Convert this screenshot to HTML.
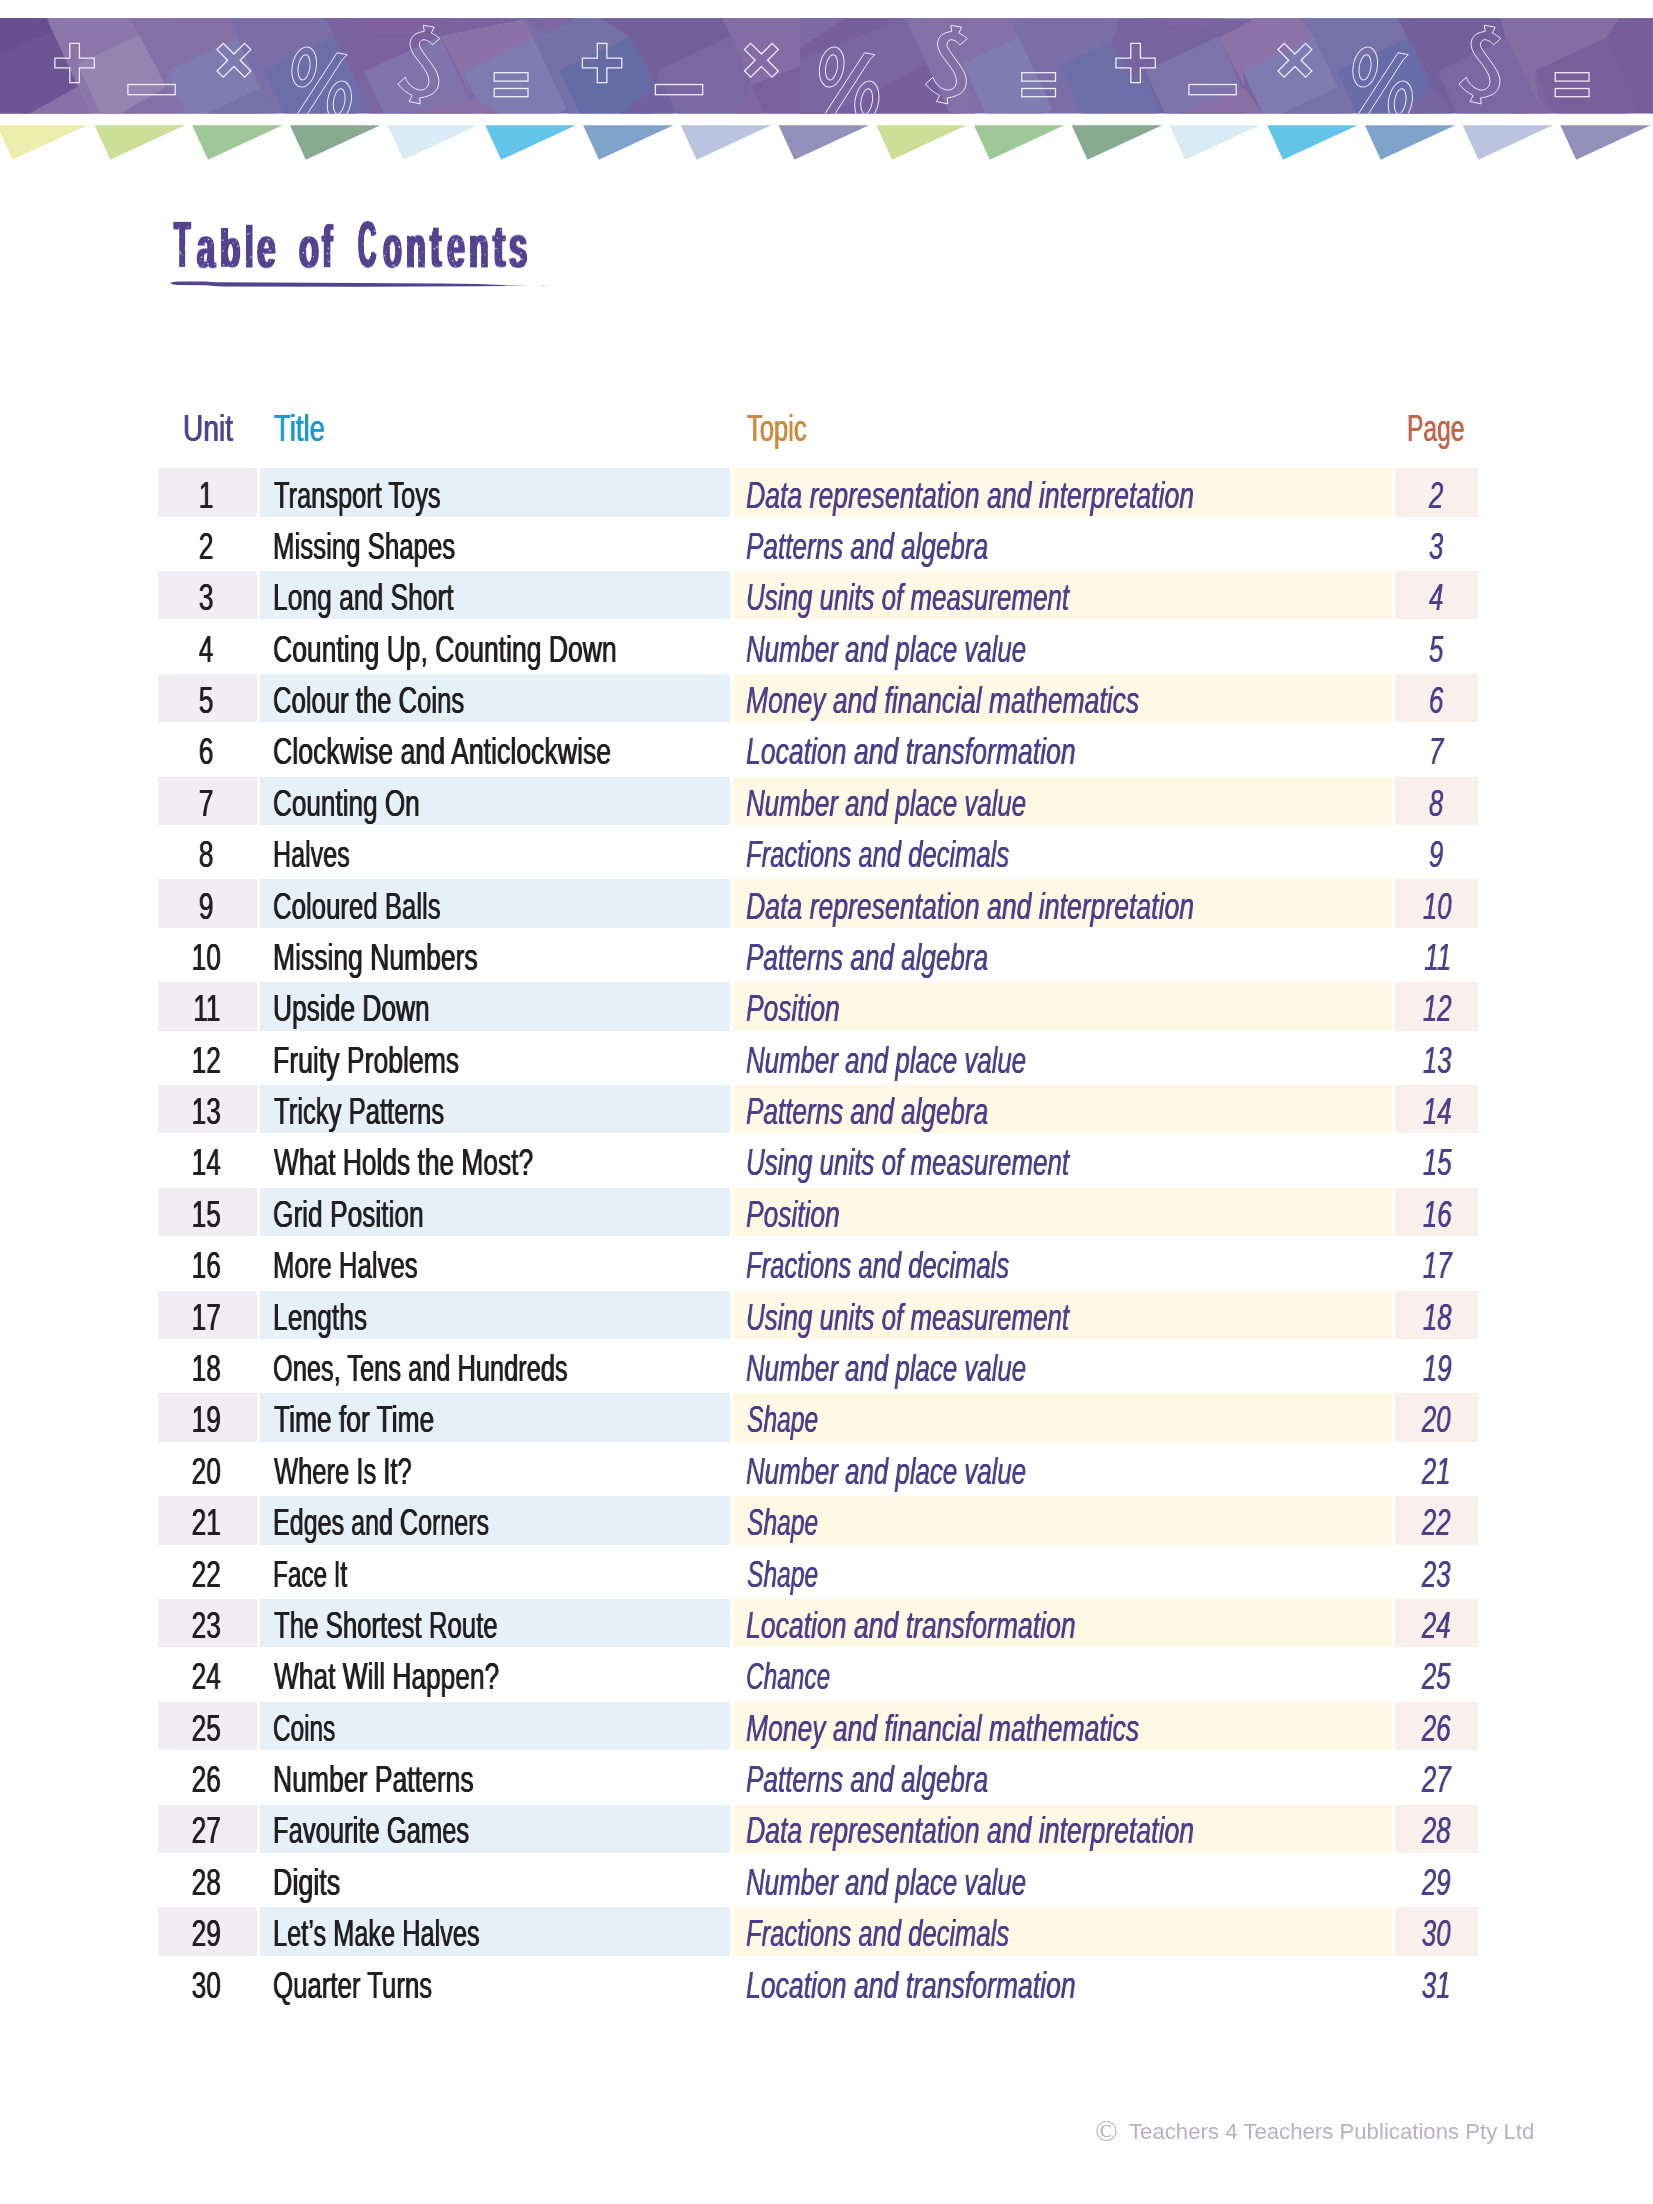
<!DOCTYPE html>
<html lang="en"><head><meta charset="utf-8"><title>Table of Contents</title>
<style>
html,body{margin:0;padding:0;background:#fff;}
body{width:1653px;height:2204px;position:relative;overflow:hidden;font-family:"Liberation Sans",sans-serif;}
.abs{position:absolute;}
.ft{will-change:transform;}
.bg{position:absolute;height:48.6px;}
.u{left:158.3px;width:98.6px;background:#f0edf3;}
.t{left:259.8px;width:470.1px;background:#e5f0f8;}
.p{left:733.2px;width:658.6px;background:#fff8e4;}
.g{left:1395.2px;width:83.1px;background:#f9efeb;}
.tx{will-change:transform;position:absolute;white-space:nowrap;font-size:37.2px;line-height:40px;height:40px;transform-origin:0 50%;color:#231f20;text-shadow:0.55px 0 0 currentColor,-0.55px 0 0 currentColor;}
.it{font-style:italic;color:#4b3f8a;text-shadow:0.35px 0 0 currentColor,-0.35px 0 0 currentColor;}
.c{transform-origin:50% 50%;text-align:center;}
</style></head><body>

<svg class="abs" style="left:0;top:0" width="1653" height="170" viewBox="0 0 1653 170">
<defs><clipPath id="bc"><rect x="0" y="18.2" width="1653" height="95.4"/></clipPath>
<linearGradient id="bg" x1="0" x2="1653" y1="0" y2="0" gradientUnits="userSpaceOnUse"><stop offset="0.0000" stop-color="#6c5495"/><stop offset="0.0272" stop-color="#6c5495"/><stop offset="0.0363" stop-color="#8a73a8"/><stop offset="0.0968" stop-color="#8a73a8"/><stop offset="0.1210" stop-color="#8070a8"/><stop offset="0.1694" stop-color="#7a6ea8"/><stop offset="0.2057" stop-color="#7a62a0"/><stop offset="0.2843" stop-color="#8068a2"/><stop offset="0.3206" stop-color="#7c66a3"/><stop offset="0.3388" stop-color="#7070a8"/><stop offset="0.3872" stop-color="#6f6ba5"/><stop offset="0.4114" stop-color="#74609c"/><stop offset="0.4840" stop-color="#7d649f"/><stop offset="0.5445" stop-color="#765f9c"/><stop offset="0.5808" stop-color="#846fa6"/><stop offset="0.6171" stop-color="#7a6ea8"/><stop offset="0.6655" stop-color="#7a6ea8"/><stop offset="0.6836" stop-color="#77639f"/><stop offset="0.7502" stop-color="#77639f"/><stop offset="0.8046" stop-color="#7870a9"/><stop offset="0.8469" stop-color="#7470a8"/><stop offset="0.8711" stop-color="#735f9c"/><stop offset="0.9135" stop-color="#7e669f"/><stop offset="1.0000" stop-color="#775d99"/></linearGradient></defs>
<g clip-path="url(#bc)">
<rect x="0" y="0" width="1653" height="130" fill="url(#bg)"/>
<polygon points="40.0,18.0 134.0,18.0 142.7,37.8 120.0,114.0 20.0,114.0" fill="#8b75a9"/>
<polygon points="77.4,63.9 141.3,34.1 171.1,98.0 107.2,127.8" fill="#9584b2"/>
<polygon points="0.0,18.0 46.6,18.0 77.9,86.8 28.8,114.0 0.0,114.0" fill="#6c5495"/>
<polygon points="0.0,18.0 46.6,18.0 50.8,32.6 0.0,54.6" fill="#684f91"/>
<polygon points="28.8,114.0 77.9,86.8 90.0,114.0" fill="#8770a6"/>
<polygon points="130.0,18.0 238.0,18.0 237.1,37.7 166.8,70.7 166.8,86.8 140.6,37.7" fill="#8470a5"/>
<polygon points="120.0,114.0 166.8,86.8 193.0,120.0" fill="#846fa6"/>
<polygon points="166.8,70.7 237.2,37.9 270.1,108.3 199.6,141.1" fill="#7f7bb0"/>
<polygon points="237.1,37.7 232.0,18.0 330.0,18.0 336.0,39.4 264.0,70.0 263.4,86.8" fill="#7a6ea8"/>
<polygon points="264.0,70.0 335.6,36.6 369.0,108.2 297.4,141.6" fill="#6b6ea8"/>
<polygon points="193.0,120.0 263.4,86.8 280.0,120.0" fill="#7672a9"/>
<polygon points="326.0,18.0 530.0,18.0 441.0,36.0 364.0,71.6 359.8,86.8 336.0,39.4" fill="#7a629f"/>
<polygon points="360.0,18.0 450.0,18.0 420.0,34.0 372.0,34.0" fill="#81639f" fill-opacity="0.8"/>
<polygon points="364.0,71.6 440.1,36.1 475.6,112.2 399.5,147.7" fill="#7f74aa"/>
<polygon points="441.0,36.0 530.0,18.0 540.0,36.0 534.2,39.4 463.0,71.6 476.0,106.0" fill="#8a72a7"/>
<polygon points="359.8,86.8 364.0,71.6 398.0,146.0 370.0,114.0" fill="#7a66a2"/>
<polygon points="463.0,71.6 533.7,38.6 566.7,109.3 496.0,142.3" fill="#7f7bb0"/>
<polygon points="400.0,114.0 476.0,100.0 500.0,114.0" fill="#8a6fa5"/>
<polygon points="524.0,18.0 600.0,18.0 631.5,37.7 559.5,70.0 557.8,86.8 534.2,39.4" fill="#7570a8"/>
<polygon points="524.0,18.0 575.0,18.0 545.0,34.0" fill="#7c66a3"/>
<polygon points="557.8,86.8 559.5,70.0 592.5,140.7 570.0,114.0" fill="#7571a9"/>
<polygon points="559.5,70.0 631.1,36.6 664.5,108.2 592.9,141.6" fill="#656ba5"/>
<polygon points="631.5,37.7 600.0,18.0 722.0,18.0 731.4,37.7 656.9,70.7 656.9,86.8" fill="#725f9b"/>
<polygon points="656.9,70.7 731.2,36.0 765.9,110.4 691.6,145.0" fill="#7968a2"/>
<polygon points="620.0,114.0 656.9,86.8 690.0,140.0 620.0,140.0" fill="#7062a0"/>
<polygon points="722.0,18.0 830.0,18.0 830.0,60.0 751.7,85.0 731.4,37.7" fill="#846da4"/>
<polygon points="751.7,85.0 830.0,55.0 830.0,114.0 765.0,114.0" fill="#7a609c"/>
<polygon points="735.0,114.0 751.7,85.0 765.0,114.0" fill="#7f68a1"/>
<polygon points="800.0,18.0 914.0,18.0 960.0,114.0 800.0,114.0" fill="#765f9c"/>
<polygon points="800.0,18.0 845.0,18.0 800.0,48.0" fill="#806aa3"/>
<polygon points="800.0,60.0 900.0,20.0 914.0,18.0 935.0,60.0 830.0,114.0 800.0,114.0" fill="#7b66a1"/>
<polygon points="905.0,18.0 1030.0,18.0 1018.5,38.0 962.6,63.4 975.0,114.0 950.0,114.0" fill="#846fa6"/>
<polygon points="1018.5,38.0 1010.0,18.0 1120.0,18.0 1112.0,43.0 1064.0,66.0" fill="#7a6ea8"/>
<polygon points="962.6,63.4 1018.8,37.2 1052.6,109.7 996.4,135.9" fill="#807bb0"/>
<polygon points="1060.0,66.0 1125.3,35.6 1160.8,111.7 1095.5,142.1" fill="#6c6ea8"/>
<polygon points="1112.0,43.0 1120.0,18.0 1200.0,18.0 1218.9,37.7 1145.2,70.7 1130.0,75.0" fill="#77639f"/>
<polygon points="1150.0,18.0 1225.0,18.0 1190.0,34.0" fill="#80649f" fill-opacity="0.7"/>
<polygon points="1145.2,70.7 1218.6,36.5 1252.8,109.9 1179.4,144.1" fill="#7c73aa"/>
<polygon points="1218.9,37.7 1256.0,18.0 1305.0,18.0 1314.6,37.7 1242.6,70.7 1245.0,88.0" fill="#8b72a7"/>
<polygon points="1180.0,114.0 1245.0,88.0 1267.0,120.0 1180.0,120.0" fill="#8a6fa5"/>
<polygon points="1242.6,70.7 1314.2,37.3 1347.6,108.9 1276.0,142.3" fill="#7f7bb0"/>
<polygon points="1314.6,37.7 1300.0,18.0 1400.0,18.0 1408.0,38.0 1337.0,71.0 1339.1,86.8" fill="#7770a9"/>
<polygon points="1337.0,71.0 1407.7,38.0 1440.7,108.7 1370.0,141.7" fill="#686ca8"/>
<polygon points="1267.0,120.0 1339.1,86.8 1356.0,120.0" fill="#7672a9"/>
<polygon points="1408.0,38.0 1398.0,18.0 1500.0,18.0 1506.0,38.0 1437.5,71.0 1433.7,86.0" fill="#735f9c"/>
<polygon points="1437.5,71.0 1506.4,38.9 1538.5,107.8 1469.6,139.9" fill="#7a68a3"/>
<polygon points="1400.0,114.0 1433.7,86.0 1470.0,140.0 1400.0,140.0" fill="#7565a0"/>
<polygon points="1500.0,18.0 1620.0,18.0 1606.0,38.0 1535.0,71.0 1540.0,108.0 1506.0,38.0" fill="#846da3"/>
<polygon points="1535.0,71.0 1605.7,38.0 1638.7,108.7 1568.0,141.7" fill="#78609b"/>
<polygon points="1606.0,38.0 1620.0,18.0 1653.0,18.0 1653.0,114.0 1640.0,110.0" fill="#775d99"/>
<polygon points="1510.0,114.0 1540.0,100.0 1570.0,140.0 1510.0,140.0" fill="#7f68a1"/>
<g transform="translate(0 0)" fill="none" stroke="#f1ebf8" stroke-width="1.3" stroke-linejoin="miter">
<path d="M-4.80 -19.70 L4.80 -19.70 L4.80 -4.80 L19.70 -4.80 L19.70 4.80 L4.80 4.80 L4.80 19.70 L-4.80 19.70 L-4.80 4.80 L-19.70 4.80 L-19.70 -4.80 L-4.80 -4.80Z" transform="translate(74.60 63.00) rotate(0)"/>
<rect x="127.90" y="84.50" width="47.30" height="10.20"/>
<path d="M-4.40 -19.50 L4.40 -19.50 L4.40 -4.40 L19.50 -4.40 L19.50 4.40 L4.40 4.40 L4.40 19.50 L-4.40 19.50 L-4.40 4.40 L-19.50 4.40 L-19.50 -4.40 L-4.40 -4.40Z" transform="translate(233.90 60.30) rotate(45)"/>
<g stroke-width="1.0"><ellipse cx="0" cy="0" rx="12.10" ry="20.08" transform="translate(304.20 67.02) skewX(-7)"/><ellipse cx="0" cy="0" rx="5.90" ry="12.58" transform="translate(304.05 67.36) skewX(-7)"/><ellipse cx="0" cy="0" rx="11.86" ry="20.08" transform="translate(339.38 101.05) skewX(-7)"/><ellipse cx="0" cy="0" rx="5.71" ry="12.58" transform="translate(339.19 101.24) skewX(-7)"/><path d="M337.11 52.75 L347.27 54.68 L342.43 59.52 L302.26 121.95 L292.10 121.95Z"/><path d="M424.28 31.31 L423.32 25.26 L434.20 27.20 L431.30 33.00 C432.03 33.41 434.24 34.50 435.66 35.42 C437.07 36.35 439.08 38.04 439.77 38.57 L432.51 44.86 C432.07 44.42 430.86 42.96 429.85 42.20 C428.84 41.43 427.59 40.67 426.46 40.26 C425.33 39.86 424.08 39.58 423.07 39.78 C422.06 39.98 421.02 40.67 420.41 41.47 C419.81 42.28 419.44 43.53 419.44 44.62 C419.44 45.71 419.73 46.63 420.41 48.01 C421.10 49.38 422.23 50.91 423.56 52.85 C424.89 54.78 426.78 57.36 428.40 59.62 C430.01 61.88 431.87 64.30 433.24 66.40 C434.61 68.49 435.74 70.27 436.62 72.20 C437.51 74.14 438.20 76.32 438.56 78.01 C438.92 79.71 438.92 80.84 438.80 82.37 C438.68 83.90 438.44 85.67 437.83 87.21 C437.23 88.74 436.26 90.35 435.17 91.56 C434.08 92.77 432.83 93.62 431.30 94.47 C429.77 95.31 427.91 96.08 425.98 96.64 C424.04 97.21 420.73 97.65 419.69 97.85 L420.17 103.90 L409.04 101.48 L412.18 95.43 C411.34 94.95 408.76 93.66 407.10 92.53 C405.45 91.40 403.80 90.07 402.26 88.66 C400.73 87.25 398.63 84.83 397.91 84.06 L405.41 77.29 C405.77 78.05 406.66 80.47 407.59 81.88 C408.51 83.30 409.68 84.63 410.97 85.76 C412.26 86.88 413.80 87.93 415.33 88.66 C416.86 89.39 418.64 90.03 420.17 90.11 C421.70 90.19 423.27 89.79 424.53 89.14 C425.78 88.50 426.94 87.45 427.67 86.24 C428.40 85.03 428.80 83.50 428.88 81.88 C428.96 80.27 428.72 78.42 428.15 76.56 C427.59 74.70 426.66 72.77 425.49 70.75 C424.32 68.74 422.67 66.56 421.14 64.46 C419.60 62.36 417.67 60.02 416.30 58.17 C414.93 56.31 413.84 55.02 412.91 53.33 C411.98 51.64 411.20 49.70 410.73 48.01 C410.26 46.31 409.98 44.78 410.10 43.17 C410.22 41.55 410.75 39.70 411.46 38.33 C412.17 36.96 413.23 35.87 414.36 34.94 C415.49 34.01 416.58 33.37 418.23 32.76 C419.89 32.16 423.27 31.55 424.28 31.31Z" stroke-linejoin="round"/></g>
<rect x="494.20" y="72.70" width="33.80" height="8.40"/>
<rect x="494.20" y="88.50" width="33.80" height="8.20"/>
</g>
<g transform="translate(527.5 0)" fill="none" stroke="#f1ebf8" stroke-width="1.3" stroke-linejoin="miter">
<path d="M-4.80 -19.70 L4.80 -19.70 L4.80 -4.80 L19.70 -4.80 L19.70 4.80 L4.80 4.80 L4.80 19.70 L-4.80 19.70 L-4.80 4.80 L-19.70 4.80 L-19.70 -4.80 L-4.80 -4.80Z" transform="translate(74.60 63.00) rotate(0)"/>
<rect x="127.90" y="84.50" width="47.30" height="10.20"/>
<path d="M-4.40 -19.50 L4.40 -19.50 L4.40 -4.40 L19.50 -4.40 L19.50 4.40 L4.40 4.40 L4.40 19.50 L-4.40 19.50 L-4.40 4.40 L-19.50 4.40 L-19.50 -4.40 L-4.40 -4.40Z" transform="translate(233.90 60.30) rotate(45)"/>
<g stroke-width="1.0"><ellipse cx="0" cy="0" rx="12.10" ry="20.08" transform="translate(304.20 67.02) skewX(-7)"/><ellipse cx="0" cy="0" rx="5.90" ry="12.58" transform="translate(304.05 67.36) skewX(-7)"/><ellipse cx="0" cy="0" rx="11.86" ry="20.08" transform="translate(339.38 101.05) skewX(-7)"/><ellipse cx="0" cy="0" rx="5.71" ry="12.58" transform="translate(339.19 101.24) skewX(-7)"/><path d="M337.11 52.75 L347.27 54.68 L342.43 59.52 L302.26 121.95 L292.10 121.95Z"/><path d="M424.28 31.31 L423.32 25.26 L434.20 27.20 L431.30 33.00 C432.03 33.41 434.24 34.50 435.66 35.42 C437.07 36.35 439.08 38.04 439.77 38.57 L432.51 44.86 C432.07 44.42 430.86 42.96 429.85 42.20 C428.84 41.43 427.59 40.67 426.46 40.26 C425.33 39.86 424.08 39.58 423.07 39.78 C422.06 39.98 421.02 40.67 420.41 41.47 C419.81 42.28 419.44 43.53 419.44 44.62 C419.44 45.71 419.73 46.63 420.41 48.01 C421.10 49.38 422.23 50.91 423.56 52.85 C424.89 54.78 426.78 57.36 428.40 59.62 C430.01 61.88 431.87 64.30 433.24 66.40 C434.61 68.49 435.74 70.27 436.62 72.20 C437.51 74.14 438.20 76.32 438.56 78.01 C438.92 79.71 438.92 80.84 438.80 82.37 C438.68 83.90 438.44 85.67 437.83 87.21 C437.23 88.74 436.26 90.35 435.17 91.56 C434.08 92.77 432.83 93.62 431.30 94.47 C429.77 95.31 427.91 96.08 425.98 96.64 C424.04 97.21 420.73 97.65 419.69 97.85 L420.17 103.90 L409.04 101.48 L412.18 95.43 C411.34 94.95 408.76 93.66 407.10 92.53 C405.45 91.40 403.80 90.07 402.26 88.66 C400.73 87.25 398.63 84.83 397.91 84.06 L405.41 77.29 C405.77 78.05 406.66 80.47 407.59 81.88 C408.51 83.30 409.68 84.63 410.97 85.76 C412.26 86.88 413.80 87.93 415.33 88.66 C416.86 89.39 418.64 90.03 420.17 90.11 C421.70 90.19 423.27 89.79 424.53 89.14 C425.78 88.50 426.94 87.45 427.67 86.24 C428.40 85.03 428.80 83.50 428.88 81.88 C428.96 80.27 428.72 78.42 428.15 76.56 C427.59 74.70 426.66 72.77 425.49 70.75 C424.32 68.74 422.67 66.56 421.14 64.46 C419.60 62.36 417.67 60.02 416.30 58.17 C414.93 56.31 413.84 55.02 412.91 53.33 C411.98 51.64 411.20 49.70 410.73 48.01 C410.26 46.31 409.98 44.78 410.10 43.17 C410.22 41.55 410.75 39.70 411.46 38.33 C412.17 36.96 413.23 35.87 414.36 34.94 C415.49 34.01 416.58 33.37 418.23 32.76 C419.89 32.16 423.27 31.55 424.28 31.31Z" stroke-linejoin="round"/></g>
<rect x="494.20" y="72.70" width="33.80" height="8.40"/>
<rect x="494.20" y="88.50" width="33.80" height="8.20"/>
</g>
<g transform="translate(1061.0 0)" fill="none" stroke="#f1ebf8" stroke-width="1.3" stroke-linejoin="miter">
<path d="M-4.80 -19.70 L4.80 -19.70 L4.80 -4.80 L19.70 -4.80 L19.70 4.80 L4.80 4.80 L4.80 19.70 L-4.80 19.70 L-4.80 4.80 L-19.70 4.80 L-19.70 -4.80 L-4.80 -4.80Z" transform="translate(74.60 63.00) rotate(0)"/>
<rect x="127.90" y="84.50" width="47.30" height="10.20"/>
<path d="M-4.40 -19.50 L4.40 -19.50 L4.40 -4.40 L19.50 -4.40 L19.50 4.40 L4.40 4.40 L4.40 19.50 L-4.40 19.50 L-4.40 4.40 L-19.50 4.40 L-19.50 -4.40 L-4.40 -4.40Z" transform="translate(233.90 60.30) rotate(45)"/>
<g stroke-width="1.0"><ellipse cx="0" cy="0" rx="12.10" ry="20.08" transform="translate(304.20 67.02) skewX(-7)"/><ellipse cx="0" cy="0" rx="5.90" ry="12.58" transform="translate(304.05 67.36) skewX(-7)"/><ellipse cx="0" cy="0" rx="11.86" ry="20.08" transform="translate(339.38 101.05) skewX(-7)"/><ellipse cx="0" cy="0" rx="5.71" ry="12.58" transform="translate(339.19 101.24) skewX(-7)"/><path d="M337.11 52.75 L347.27 54.68 L342.43 59.52 L302.26 121.95 L292.10 121.95Z"/><path d="M424.28 31.31 L423.32 25.26 L434.20 27.20 L431.30 33.00 C432.03 33.41 434.24 34.50 435.66 35.42 C437.07 36.35 439.08 38.04 439.77 38.57 L432.51 44.86 C432.07 44.42 430.86 42.96 429.85 42.20 C428.84 41.43 427.59 40.67 426.46 40.26 C425.33 39.86 424.08 39.58 423.07 39.78 C422.06 39.98 421.02 40.67 420.41 41.47 C419.81 42.28 419.44 43.53 419.44 44.62 C419.44 45.71 419.73 46.63 420.41 48.01 C421.10 49.38 422.23 50.91 423.56 52.85 C424.89 54.78 426.78 57.36 428.40 59.62 C430.01 61.88 431.87 64.30 433.24 66.40 C434.61 68.49 435.74 70.27 436.62 72.20 C437.51 74.14 438.20 76.32 438.56 78.01 C438.92 79.71 438.92 80.84 438.80 82.37 C438.68 83.90 438.44 85.67 437.83 87.21 C437.23 88.74 436.26 90.35 435.17 91.56 C434.08 92.77 432.83 93.62 431.30 94.47 C429.77 95.31 427.91 96.08 425.98 96.64 C424.04 97.21 420.73 97.65 419.69 97.85 L420.17 103.90 L409.04 101.48 L412.18 95.43 C411.34 94.95 408.76 93.66 407.10 92.53 C405.45 91.40 403.80 90.07 402.26 88.66 C400.73 87.25 398.63 84.83 397.91 84.06 L405.41 77.29 C405.77 78.05 406.66 80.47 407.59 81.88 C408.51 83.30 409.68 84.63 410.97 85.76 C412.26 86.88 413.80 87.93 415.33 88.66 C416.86 89.39 418.64 90.03 420.17 90.11 C421.70 90.19 423.27 89.79 424.53 89.14 C425.78 88.50 426.94 87.45 427.67 86.24 C428.40 85.03 428.80 83.50 428.88 81.88 C428.96 80.27 428.72 78.42 428.15 76.56 C427.59 74.70 426.66 72.77 425.49 70.75 C424.32 68.74 422.67 66.56 421.14 64.46 C419.60 62.36 417.67 60.02 416.30 58.17 C414.93 56.31 413.84 55.02 412.91 53.33 C411.98 51.64 411.20 49.70 410.73 48.01 C410.26 46.31 409.98 44.78 410.10 43.17 C410.22 41.55 410.75 39.70 411.46 38.33 C412.17 36.96 413.23 35.87 414.36 34.94 C415.49 34.01 416.58 33.37 418.23 32.76 C419.89 32.16 423.27 31.55 424.28 31.31Z" stroke-linejoin="round"/></g>
<rect x="494.20" y="72.70" width="33.80" height="8.40"/>
<rect x="494.20" y="88.50" width="33.80" height="8.20"/>
</g>
</g>
<polygon points="-3.2,125.2 87.1,125.2 12.6,159.8" fill="#eceeab"/>
<polygon points="94.5,125.2 184.8,125.2 110.3,159.8" fill="#cddf97"/>
<polygon points="192.2,125.2 282.5,125.2 208.0,159.8" fill="#9ec897"/>
<polygon points="290.0,125.2 380.3,125.2 305.8,159.8" fill="#88aa90"/>
<polygon points="387.7,125.2 478.0,125.2 403.5,159.8" fill="#d9ebf5"/>
<polygon points="485.4,125.2 575.7,125.2 501.2,159.8" fill="#62c4e8"/>
<polygon points="583.1,125.2 673.4,125.2 598.9,159.8" fill="#80a3cc"/>
<polygon points="680.8,125.2 771.1,125.2 696.6,159.8" fill="#bac4e0"/>
<polygon points="778.6,125.2 868.9,125.2 794.4,159.8" fill="#9590bb"/>
<polygon points="876.3,125.2 966.6,125.2 892.1,159.8" fill="#cddf97"/>
<polygon points="974.0,125.2 1064.3,125.2 989.8,159.8" fill="#9ec897"/>
<polygon points="1071.7,125.2 1162.0,125.2 1087.5,159.8" fill="#88aa90"/>
<polygon points="1169.4,125.2 1259.7,125.2 1185.2,159.8" fill="#d9ebf5"/>
<polygon points="1267.2,125.2 1357.5,125.2 1283.0,159.8" fill="#62c4e8"/>
<polygon points="1364.9,125.2 1455.2,125.2 1380.7,159.8" fill="#80a3cc"/>
<polygon points="1462.6,125.2 1552.9,125.2 1478.4,159.8" fill="#bac4e0"/>
<polygon points="1560.3,125.2 1650.6,125.2 1576.1,159.8" fill="#9590bb"/>
</svg>
<style>.tl{will-change:transform;position:absolute;white-space:nowrap;font-weight:bold;font-size:62.0px;line-height:62.0px;height:62.0px;color:#51438f;text-shadow:2.3px 0 0 #51438f,-2.3px 0 0 #51438f;transform-origin:0 0;}</style>
<div class="tl" style="left:174.20px;top:213.14px;transform:scale(0.4365,1.0414)">T</div>
<div class="tl" style="left:196.70px;top:217.57px;transform:scale(0.5246,0.9491)">a</div>
<div class="tl" style="left:220.26px;top:221.29px;transform:scale(0.5360,0.8796)">b</div>
<div class="tl" style="left:244.82px;top:216.85px;transform:scale(0.4969,0.9708)">l</div>
<div class="tl" style="left:257.19px;top:217.57px;transform:scale(0.5365,0.9491)">e</div>
<div class="tl" style="left:299.09px;top:217.57px;transform:scale(0.5246,0.9491)">o</div>
<div class="tl" style="left:322.47px;top:216.16px;transform:scale(0.5011,0.9839)">f</div>
<div class="tl" style="left:358.45px;top:212.72px;transform:scale(0.4108,1.0435)">C</div>
<div class="tl" style="left:382.58px;top:215.78px;transform:scale(0.4960,0.9864)">o</div>
<div class="tl" style="left:405.68px;top:216.15px;transform:scale(0.5197,0.9880)">n</div>
<div class="tl" style="left:430.08px;top:216.33px;transform:scale(0.5573,0.9722)">t</div>
<div class="tl" style="left:446.79px;top:216.08px;transform:scale(0.5169,0.9806)">e</div>
<div class="tl" style="left:469.29px;top:216.15px;transform:scale(0.5169,0.9880)">n</div>
<div class="tl" style="left:493.05px;top:216.33px;transform:scale(0.5853,0.9722)">t</div>
<div class="tl" style="left:508.99px;top:216.08px;transform:scale(0.5313,0.9806)">s</div>
<svg class="abs" style="left:160px;top:274px" width="420" height="20" viewBox="160 274 420 20"><path d="M170.6 283.3 C171.5 282.0 174 281.6 178 281.5 L200 281.4 C206 281.4 210 281.8 216 282.3 L360 283.1 L440 283.6 L477 284.0 L502 285.0 L528 285.6 L502 285.9 L477 286.3 L360 286.8 L222 286.5 C216 286.4 211 285.4 205 285.2 L178 284.9 C174 284.8 171.5 284.4 170.6 283.3 Z" fill="#51438f"/><path d="M540.5 285.4 L550 285.6 L541 286.0Z" fill="#51438f" fill-opacity="0.5"/><path d="M505 285.0 L529 285.6 L505 286.0Z" fill="#ffffff" fill-opacity="0.45"/></svg>
<svg class="abs speck" style="left:170px;top:220px" width="362" height="52" viewBox="170 220 362 52"><g fill="#ffffff" fill-opacity="0.6"><circle cx="333.0" cy="248.3" r="0.7"/><circle cx="332.9" cy="262.2" r="0.45"/><circle cx="237.7" cy="246.1" r="0.9"/><circle cx="454.3" cy="226.4" r="0.55"/><circle cx="222.5" cy="247.3" r="0.35"/><circle cx="384.0" cy="240.6" r="0.7"/><circle cx="404.8" cy="250.9" r="0.45"/><circle cx="393.8" cy="261.1" r="0.35"/><circle cx="193.2" cy="230.9" r="0.45"/><circle cx="385.5" cy="258.6" r="0.55"/><circle cx="328.8" cy="261.6" r="0.9"/><circle cx="255.2" cy="235.8" r="0.35"/><circle cx="407.8" cy="243.5" r="0.55"/><circle cx="316.8" cy="247.9" r="0.35"/><circle cx="424.0" cy="236.8" r="0.45"/><circle cx="354.6" cy="223.4" r="0.9"/><circle cx="444.8" cy="240.8" r="0.55"/><circle cx="309.6" cy="267.0" r="0.35"/><circle cx="248.0" cy="265.6" r="0.35"/><circle cx="339.3" cy="268.1" r="0.7"/><circle cx="321.4" cy="248.6" r="0.45"/><circle cx="449.1" cy="234.7" r="0.35"/><circle cx="282.8" cy="222.7" r="0.7"/><circle cx="441.9" cy="227.5" r="0.45"/><circle cx="423.7" cy="222.5" r="0.7"/><circle cx="455.7" cy="230.4" r="0.9"/><circle cx="239.1" cy="245.9" r="0.45"/><circle cx="321.2" cy="240.0" r="0.7"/><circle cx="321.8" cy="232.0" r="0.55"/><circle cx="479.7" cy="267.8" r="0.9"/><circle cx="280.3" cy="263.6" r="0.45"/><circle cx="238.7" cy="268.8" r="0.9"/><circle cx="400.5" cy="226.7" r="0.45"/><circle cx="247.9" cy="234.1" r="0.9"/><circle cx="289.1" cy="235.9" r="0.35"/><circle cx="198.4" cy="231.8" r="0.45"/><circle cx="177.5" cy="239.3" r="0.9"/><circle cx="333.3" cy="267.1" r="0.7"/><circle cx="468.3" cy="228.4" r="0.7"/><circle cx="237.1" cy="229.2" r="0.45"/><circle cx="463.1" cy="233.7" r="0.45"/><circle cx="228.4" cy="251.6" r="0.9"/><circle cx="242.0" cy="266.7" r="0.7"/><circle cx="386.9" cy="241.8" r="0.35"/><circle cx="210.8" cy="246.1" r="0.55"/><circle cx="256.9" cy="255.1" r="0.55"/><circle cx="321.8" cy="264.5" r="0.7"/><circle cx="276.5" cy="230.2" r="0.35"/><circle cx="217.0" cy="244.5" r="0.9"/><circle cx="390.7" cy="235.2" r="0.45"/><circle cx="438.6" cy="225.3" r="0.7"/><circle cx="330.7" cy="224.8" r="0.45"/><circle cx="272.4" cy="247.0" r="0.45"/><circle cx="204.8" cy="228.5" r="0.7"/><circle cx="521.1" cy="252.9" r="0.9"/><circle cx="380.1" cy="228.6" r="0.35"/><circle cx="500.8" cy="244.3" r="0.55"/><circle cx="421.5" cy="267.3" r="0.35"/><circle cx="385.0" cy="225.5" r="0.35"/><circle cx="432.1" cy="237.0" r="0.35"/><circle cx="198.8" cy="247.7" r="0.35"/><circle cx="492.5" cy="256.6" r="0.45"/><circle cx="454.4" cy="265.0" r="0.55"/><circle cx="202.2" cy="244.2" r="0.35"/><circle cx="482.1" cy="241.6" r="0.35"/><circle cx="479.4" cy="248.9" r="0.9"/><circle cx="407.8" cy="239.8" r="0.35"/><circle cx="388.8" cy="225.8" r="0.35"/><circle cx="525.6" cy="263.4" r="0.55"/><circle cx="310.3" cy="256.5" r="0.9"/><circle cx="335.0" cy="243.7" r="0.9"/><circle cx="201.8" cy="257.3" r="0.35"/><circle cx="282.4" cy="226.1" r="0.35"/><circle cx="254.0" cy="254.8" r="0.7"/><circle cx="449.7" cy="253.0" r="0.7"/><circle cx="263.1" cy="222.5" r="0.55"/><circle cx="223.0" cy="250.8" r="0.9"/><circle cx="232.4" cy="264.6" r="0.7"/><circle cx="349.4" cy="233.3" r="0.7"/><circle cx="409.1" cy="231.3" r="0.7"/><circle cx="458.1" cy="257.5" r="0.45"/><circle cx="485.4" cy="240.1" r="0.9"/><circle cx="499.8" cy="231.9" r="0.45"/><circle cx="348.7" cy="261.3" r="0.35"/><circle cx="425.2" cy="266.7" r="0.55"/><circle cx="464.6" cy="227.3" r="0.7"/><circle cx="270.0" cy="232.1" r="0.7"/><circle cx="308.2" cy="246.4" r="0.55"/><circle cx="427.0" cy="261.6" r="0.9"/><circle cx="333.1" cy="225.5" r="0.35"/><circle cx="271.0" cy="250.6" r="0.55"/><circle cx="375.1" cy="236.5" r="0.9"/><circle cx="178.8" cy="228.4" r="0.7"/><circle cx="239.6" cy="258.2" r="0.55"/><circle cx="256.5" cy="228.6" r="0.35"/><circle cx="522.3" cy="227.4" r="0.35"/><circle cx="396.3" cy="252.8" r="0.55"/><circle cx="513.2" cy="254.2" r="0.45"/><circle cx="465.3" cy="234.0" r="0.35"/><circle cx="440.8" cy="247.1" r="0.35"/><circle cx="235.8" cy="234.8" r="0.55"/><circle cx="364.1" cy="266.5" r="0.9"/><circle cx="390.7" cy="257.5" r="0.7"/><circle cx="474.2" cy="254.9" r="0.45"/><circle cx="203.0" cy="265.8" r="0.7"/><circle cx="218.2" cy="243.3" r="0.35"/><circle cx="306.1" cy="248.7" r="0.9"/><circle cx="455.6" cy="266.4" r="0.7"/><circle cx="288.2" cy="268.2" r="0.35"/><circle cx="429.0" cy="260.5" r="0.35"/><circle cx="247.9" cy="264.3" r="0.35"/><circle cx="519.9" cy="247.2" r="0.55"/><circle cx="265.2" cy="255.8" r="0.35"/><circle cx="296.1" cy="225.9" r="0.7"/><circle cx="293.8" cy="241.8" r="0.55"/><circle cx="345.5" cy="223.3" r="0.35"/><circle cx="324.7" cy="223.6" r="0.9"/><circle cx="291.3" cy="259.0" r="0.45"/><circle cx="339.5" cy="269.0" r="0.9"/><circle cx="471.0" cy="254.4" r="0.7"/><circle cx="378.1" cy="254.4" r="0.45"/><circle cx="328.4" cy="248.3" r="0.9"/><circle cx="399.4" cy="246.6" r="0.9"/><circle cx="263.3" cy="253.6" r="0.9"/><circle cx="246.1" cy="262.0" r="0.9"/><circle cx="358.6" cy="248.9" r="0.45"/><circle cx="318.3" cy="227.4" r="0.35"/><circle cx="387.5" cy="223.3" r="0.35"/><circle cx="355.7" cy="240.8" r="0.9"/><circle cx="215.4" cy="226.4" r="0.45"/><circle cx="195.5" cy="247.3" r="0.7"/><circle cx="499.8" cy="259.6" r="0.7"/><circle cx="267.8" cy="244.2" r="0.45"/><circle cx="292.9" cy="264.3" r="0.7"/><circle cx="358.9" cy="227.1" r="0.7"/><circle cx="392.0" cy="265.5" r="0.45"/><circle cx="421.9" cy="267.9" r="0.35"/><circle cx="241.1" cy="232.7" r="0.55"/><circle cx="286.7" cy="238.7" r="0.9"/><circle cx="349.6" cy="245.5" r="0.9"/><circle cx="215.7" cy="246.0" r="0.55"/><circle cx="427.5" cy="255.0" r="0.7"/><circle cx="180.3" cy="251.8" r="0.9"/><circle cx="391.2" cy="247.3" r="0.9"/><circle cx="399.3" cy="246.9" r="0.9"/><circle cx="389.8" cy="262.3" r="0.45"/><circle cx="497.7" cy="251.5" r="0.55"/><circle cx="493.4" cy="236.8" r="0.55"/><circle cx="489.1" cy="231.2" r="0.45"/><circle cx="488.0" cy="228.3" r="0.45"/><circle cx="219.2" cy="226.1" r="0.7"/><circle cx="206.5" cy="261.1" r="0.7"/><circle cx="365.4" cy="255.1" r="0.45"/><circle cx="315.4" cy="254.2" r="0.35"/><circle cx="206.2" cy="248.8" r="0.55"/><circle cx="496.4" cy="267.5" r="0.35"/><circle cx="422.9" cy="251.8" r="0.55"/><circle cx="351.0" cy="254.2" r="0.45"/><circle cx="457.8" cy="244.7" r="0.35"/><circle cx="185.3" cy="247.9" r="0.9"/><circle cx="494.2" cy="244.6" r="0.45"/><circle cx="237.7" cy="231.6" r="0.45"/><circle cx="524.5" cy="265.6" r="0.35"/><circle cx="378.4" cy="228.3" r="0.7"/><circle cx="199.6" cy="226.5" r="0.7"/><circle cx="338.2" cy="246.2" r="0.7"/><circle cx="246.8" cy="239.5" r="0.35"/><circle cx="472.6" cy="230.5" r="0.7"/><circle cx="300.0" cy="239.4" r="0.45"/><circle cx="387.3" cy="226.5" r="0.35"/><circle cx="287.2" cy="226.0" r="0.7"/><circle cx="374.8" cy="231.0" r="0.9"/><circle cx="521.8" cy="259.8" r="0.55"/><circle cx="271.5" cy="227.5" r="0.45"/><circle cx="462.0" cy="241.1" r="0.55"/><circle cx="485.2" cy="254.7" r="0.7"/><circle cx="444.4" cy="241.1" r="0.45"/><circle cx="197.1" cy="238.1" r="0.7"/><circle cx="207.9" cy="263.7" r="0.9"/><circle cx="189.6" cy="234.8" r="0.55"/><circle cx="292.3" cy="253.0" r="0.9"/><circle cx="236.8" cy="225.6" r="0.9"/><circle cx="528.0" cy="252.2" r="0.35"/><circle cx="443.2" cy="268.1" r="0.35"/><circle cx="212.9" cy="227.1" r="0.45"/><circle cx="263.4" cy="240.9" r="0.35"/><circle cx="443.0" cy="252.5" r="0.35"/><circle cx="207.0" cy="233.8" r="0.55"/><circle cx="367.8" cy="245.9" r="0.9"/><circle cx="374.2" cy="268.8" r="0.7"/><circle cx="460.2" cy="225.6" r="0.9"/><circle cx="410.0" cy="266.9" r="0.7"/><circle cx="503.1" cy="229.5" r="0.7"/><circle cx="517.3" cy="262.2" r="0.9"/><circle cx="389.6" cy="224.8" r="0.7"/><circle cx="321.8" cy="246.8" r="0.9"/><circle cx="283.2" cy="246.9" r="0.7"/><circle cx="405.2" cy="248.4" r="0.55"/><circle cx="408.2" cy="257.1" r="0.35"/><circle cx="177.0" cy="233.5" r="0.35"/><circle cx="397.3" cy="241.2" r="0.7"/><circle cx="190.8" cy="236.8" r="0.7"/><circle cx="189.9" cy="268.5" r="0.55"/><circle cx="198.2" cy="264.6" r="0.7"/><circle cx="428.0" cy="233.8" r="0.45"/><circle cx="188.2" cy="226.6" r="0.7"/><circle cx="223.4" cy="267.1" r="0.45"/><circle cx="386.9" cy="227.4" r="0.9"/><circle cx="320.5" cy="227.5" r="0.35"/><circle cx="299.0" cy="229.3" r="0.55"/><circle cx="329.7" cy="253.4" r="0.7"/><circle cx="386.0" cy="252.1" r="0.7"/><circle cx="301.6" cy="257.0" r="0.45"/><circle cx="511.1" cy="256.5" r="0.45"/><circle cx="343.3" cy="245.6" r="0.55"/><circle cx="451.2" cy="251.4" r="0.55"/><circle cx="269.8" cy="250.7" r="0.9"/><circle cx="420.9" cy="230.9" r="0.55"/><circle cx="440.2" cy="230.9" r="0.45"/><circle cx="350.8" cy="252.7" r="0.45"/><circle cx="484.8" cy="223.9" r="0.35"/><circle cx="175.4" cy="234.2" r="0.35"/><circle cx="393.9" cy="226.8" r="0.9"/><circle cx="271.1" cy="257.5" r="0.45"/><circle cx="368.0" cy="251.7" r="0.55"/><circle cx="344.3" cy="238.6" r="0.55"/><circle cx="294.4" cy="257.0" r="0.35"/><circle cx="457.6" cy="243.0" r="0.9"/><circle cx="470.3" cy="258.1" r="0.7"/><circle cx="323.1" cy="234.1" r="0.45"/><circle cx="303.3" cy="252.7" r="0.9"/><circle cx="287.8" cy="247.8" r="0.45"/><circle cx="324.2" cy="239.4" r="0.35"/><circle cx="336.5" cy="237.2" r="0.9"/><circle cx="201.6" cy="248.5" r="0.7"/><circle cx="462.2" cy="243.8" r="0.35"/><circle cx="199.1" cy="232.0" r="0.9"/><circle cx="201.1" cy="236.3" r="0.55"/><circle cx="272.7" cy="228.7" r="0.55"/><circle cx="406.0" cy="237.4" r="0.35"/><circle cx="286.8" cy="242.7" r="0.9"/><circle cx="499.0" cy="266.2" r="0.55"/><circle cx="327.9" cy="259.7" r="0.55"/><circle cx="335.1" cy="232.4" r="0.9"/><circle cx="260.4" cy="239.0" r="0.55"/><circle cx="180.6" cy="253.8" r="0.9"/><circle cx="310.0" cy="231.2" r="0.9"/><circle cx="303.1" cy="240.3" r="0.45"/><circle cx="469.7" cy="248.5" r="0.45"/><circle cx="203.9" cy="243.4" r="0.55"/><circle cx="461.0" cy="232.4" r="0.35"/><circle cx="365.7" cy="248.7" r="0.35"/><circle cx="403.8" cy="259.8" r="0.35"/><circle cx="379.2" cy="236.4" r="0.9"/><circle cx="201.9" cy="225.8" r="0.35"/><circle cx="492.1" cy="226.0" r="0.45"/><circle cx="206.7" cy="260.4" r="0.7"/><circle cx="259.4" cy="232.4" r="0.9"/><circle cx="292.4" cy="243.6" r="0.55"/><circle cx="292.3" cy="267.5" r="0.45"/><circle cx="347.7" cy="247.3" r="0.35"/><circle cx="424.1" cy="265.0" r="0.7"/><circle cx="441.5" cy="268.3" r="0.55"/><circle cx="475.8" cy="259.9" r="0.35"/><circle cx="488.4" cy="267.0" r="0.35"/><circle cx="358.5" cy="255.4" r="0.35"/><circle cx="322.1" cy="241.8" r="0.45"/><circle cx="259.5" cy="229.6" r="0.7"/><circle cx="415.5" cy="237.1" r="0.7"/><circle cx="323.3" cy="235.7" r="0.35"/><circle cx="339.8" cy="256.3" r="0.55"/><circle cx="402.7" cy="258.5" r="0.45"/><circle cx="496.7" cy="257.4" r="0.35"/><circle cx="379.9" cy="264.7" r="0.35"/><circle cx="283.3" cy="231.3" r="0.55"/><circle cx="249.4" cy="233.1" r="0.7"/><circle cx="383.7" cy="232.5" r="0.45"/><circle cx="490.4" cy="240.9" r="0.55"/><circle cx="395.1" cy="266.3" r="0.9"/><circle cx="342.7" cy="234.2" r="0.7"/><circle cx="497.5" cy="238.1" r="0.9"/><circle cx="446.7" cy="226.3" r="0.45"/><circle cx="314.2" cy="232.2" r="0.45"/><circle cx="457.3" cy="240.1" r="0.9"/><circle cx="454.9" cy="258.4" r="0.35"/><circle cx="406.1" cy="233.2" r="0.35"/><circle cx="483.2" cy="264.5" r="0.7"/><circle cx="455.7" cy="255.5" r="0.9"/><circle cx="483.4" cy="241.5" r="0.55"/><circle cx="223.5" cy="264.7" r="0.9"/><circle cx="218.7" cy="256.9" r="0.9"/><circle cx="266.9" cy="247.1" r="0.45"/><circle cx="375.6" cy="230.4" r="0.45"/><circle cx="464.4" cy="261.8" r="0.45"/><circle cx="201.3" cy="234.7" r="0.9"/><circle cx="206.6" cy="244.6" r="0.7"/><circle cx="201.5" cy="257.2" r="0.9"/><circle cx="477.2" cy="236.3" r="0.45"/><circle cx="320.4" cy="265.1" r="0.35"/><circle cx="450.2" cy="242.7" r="0.35"/><circle cx="365.4" cy="246.7" r="0.45"/><circle cx="509.0" cy="267.3" r="0.55"/><circle cx="282.6" cy="225.6" r="0.55"/><circle cx="527.0" cy="253.4" r="0.35"/><circle cx="300.1" cy="254.3" r="0.35"/><circle cx="409.7" cy="253.8" r="0.35"/><circle cx="404.8" cy="222.6" r="0.7"/><circle cx="425.4" cy="244.3" r="0.55"/><circle cx="372.8" cy="243.5" r="0.35"/><circle cx="476.8" cy="261.7" r="0.45"/><circle cx="492.9" cy="229.2" r="0.7"/><circle cx="505.7" cy="257.2" r="0.55"/><circle cx="440.8" cy="248.1" r="0.35"/><circle cx="263.3" cy="231.4" r="0.35"/><circle cx="289.3" cy="266.4" r="0.9"/><circle cx="339.3" cy="252.1" r="0.7"/><circle cx="466.4" cy="226.3" r="0.45"/><circle cx="393.3" cy="228.2" r="0.45"/><circle cx="236.0" cy="240.9" r="0.7"/><circle cx="383.0" cy="226.2" r="0.45"/><circle cx="183.5" cy="268.4" r="0.7"/><circle cx="316.8" cy="225.4" r="0.7"/><circle cx="502.0" cy="228.5" r="0.45"/><circle cx="445.0" cy="260.6" r="0.7"/><circle cx="343.9" cy="265.3" r="0.9"/><circle cx="177.5" cy="240.8" r="0.55"/><circle cx="521.6" cy="259.1" r="0.9"/><circle cx="360.6" cy="234.3" r="0.45"/><circle cx="293.8" cy="252.6" r="0.35"/><circle cx="370.4" cy="231.6" r="0.55"/><circle cx="452.7" cy="260.8" r="0.9"/><circle cx="426.0" cy="233.9" r="0.9"/><circle cx="493.5" cy="247.8" r="0.55"/><circle cx="389.9" cy="246.1" r="0.9"/><circle cx="426.0" cy="268.4" r="0.9"/><circle cx="527.4" cy="255.2" r="0.45"/><circle cx="374.0" cy="223.3" r="0.45"/><circle cx="448.5" cy="228.4" r="0.7"/><circle cx="377.2" cy="254.8" r="0.55"/><circle cx="204.7" cy="263.0" r="0.55"/><circle cx="336.8" cy="227.8" r="0.45"/><circle cx="257.0" cy="248.8" r="0.9"/><circle cx="371.6" cy="248.3" r="0.55"/><circle cx="232.0" cy="257.0" r="0.55"/><circle cx="386.1" cy="227.8" r="0.35"/><circle cx="274.7" cy="264.2" r="0.45"/><circle cx="442.0" cy="239.1" r="0.45"/><circle cx="238.1" cy="247.7" r="0.35"/><circle cx="333.7" cy="241.0" r="0.45"/><circle cx="281.5" cy="253.5" r="0.7"/><circle cx="391.0" cy="252.1" r="0.35"/><circle cx="228.4" cy="241.4" r="0.35"/><circle cx="222.9" cy="240.2" r="0.9"/><circle cx="316.4" cy="237.8" r="0.45"/><circle cx="265.9" cy="248.7" r="0.55"/><circle cx="191.0" cy="258.8" r="0.45"/><circle cx="315.5" cy="245.4" r="0.35"/><circle cx="339.3" cy="241.3" r="0.9"/><circle cx="497.0" cy="248.5" r="0.7"/><circle cx="439.6" cy="244.8" r="0.7"/><circle cx="470.4" cy="262.2" r="0.7"/><circle cx="465.7" cy="227.5" r="0.35"/><circle cx="494.3" cy="246.7" r="0.9"/><circle cx="357.4" cy="241.8" r="0.35"/><circle cx="286.2" cy="224.6" r="0.9"/><circle cx="492.4" cy="256.4" r="0.9"/><circle cx="286.6" cy="259.1" r="0.9"/><circle cx="484.2" cy="233.5" r="0.7"/><circle cx="258.3" cy="263.0" r="0.35"/><circle cx="341.4" cy="227.0" r="0.45"/><circle cx="366.0" cy="252.9" r="0.45"/><circle cx="485.2" cy="269.0" r="0.55"/><circle cx="480.5" cy="241.8" r="0.45"/><circle cx="251.0" cy="257.1" r="0.9"/><circle cx="215.7" cy="225.4" r="0.9"/><circle cx="454.1" cy="227.8" r="0.9"/><circle cx="377.0" cy="243.3" r="0.55"/><circle cx="258.8" cy="236.1" r="0.55"/><circle cx="233.2" cy="242.7" r="0.7"/><circle cx="462.3" cy="240.7" r="0.55"/><circle cx="418.5" cy="232.8" r="0.55"/><circle cx="183.1" cy="264.2" r="0.55"/><circle cx="287.5" cy="228.7" r="0.7"/><circle cx="484.8" cy="231.5" r="0.35"/><circle cx="241.6" cy="261.4" r="0.55"/><circle cx="492.2" cy="222.8" r="0.9"/><circle cx="243.9" cy="251.7" r="0.45"/><circle cx="510.0" cy="267.9" r="0.35"/><circle cx="281.0" cy="260.4" r="0.55"/><circle cx="481.6" cy="255.5" r="0.45"/><circle cx="291.2" cy="267.0" r="0.7"/><circle cx="319.8" cy="230.0" r="0.55"/><circle cx="215.0" cy="254.5" r="0.55"/><circle cx="236.4" cy="233.1" r="0.55"/><circle cx="453.4" cy="239.5" r="0.9"/><circle cx="486.9" cy="249.7" r="0.45"/><circle cx="519.9" cy="264.1" r="0.45"/><circle cx="409.5" cy="235.0" r="0.35"/><circle cx="336.7" cy="225.6" r="0.9"/><circle cx="198.3" cy="264.6" r="0.35"/><circle cx="385.5" cy="235.4" r="0.55"/><circle cx="322.7" cy="248.7" r="0.45"/><circle cx="273.5" cy="257.5" r="0.45"/><circle cx="235.8" cy="256.5" r="0.35"/><circle cx="238.3" cy="264.2" r="0.35"/><circle cx="393.4" cy="265.1" r="0.9"/><circle cx="309.0" cy="265.7" r="0.7"/><circle cx="193.4" cy="225.0" r="0.55"/><circle cx="286.2" cy="244.7" r="0.35"/><circle cx="356.0" cy="245.8" r="0.9"/><circle cx="437.0" cy="247.0" r="0.9"/><circle cx="449.6" cy="229.8" r="0.9"/><circle cx="327.1" cy="253.4" r="0.9"/><circle cx="447.2" cy="259.0" r="0.45"/><circle cx="264.4" cy="247.6" r="0.9"/><circle cx="386.8" cy="234.3" r="0.45"/><circle cx="384.5" cy="255.6" r="0.9"/><circle cx="331.6" cy="263.4" r="0.55"/><circle cx="226.0" cy="222.8" r="0.7"/><circle cx="459.0" cy="245.7" r="0.55"/><circle cx="477.0" cy="223.5" r="0.35"/><circle cx="495.0" cy="248.7" r="0.9"/><circle cx="378.3" cy="255.9" r="0.9"/><circle cx="224.1" cy="236.6" r="0.35"/><circle cx="419.7" cy="260.5" r="0.9"/><circle cx="449.9" cy="258.0" r="0.7"/><circle cx="203.5" cy="260.6" r="0.45"/><circle cx="306.9" cy="233.7" r="0.7"/><circle cx="417.9" cy="261.1" r="0.7"/><circle cx="193.8" cy="241.3" r="0.55"/><circle cx="420.7" cy="255.1" r="0.35"/><circle cx="217.7" cy="257.5" r="0.9"/><circle cx="523.1" cy="228.8" r="0.7"/><circle cx="357.7" cy="268.3" r="0.35"/><circle cx="257.7" cy="263.8" r="0.45"/><circle cx="204.5" cy="248.1" r="0.7"/><circle cx="323.1" cy="225.6" r="0.35"/><circle cx="414.0" cy="255.7" r="0.9"/><circle cx="253.8" cy="233.9" r="0.9"/><circle cx="476.5" cy="241.7" r="0.35"/><circle cx="504.0" cy="239.1" r="0.55"/><circle cx="508.9" cy="265.4" r="0.45"/><circle cx="186.1" cy="240.9" r="0.35"/><circle cx="434.5" cy="248.7" r="0.9"/><circle cx="500.9" cy="230.3" r="0.7"/><circle cx="505.0" cy="232.0" r="0.7"/><circle cx="450.2" cy="232.1" r="0.55"/><circle cx="259.8" cy="259.3" r="0.45"/><circle cx="342.9" cy="240.8" r="0.9"/><circle cx="338.5" cy="236.5" r="0.7"/><circle cx="346.5" cy="251.5" r="0.45"/><circle cx="479.1" cy="231.6" r="0.7"/><circle cx="321.2" cy="224.2" r="0.55"/><circle cx="301.2" cy="234.9" r="0.35"/><circle cx="356.7" cy="256.9" r="0.9"/><circle cx="311.9" cy="265.4" r="0.45"/><circle cx="267.6" cy="239.0" r="0.45"/><circle cx="431.2" cy="258.5" r="0.45"/><circle cx="444.6" cy="256.0" r="0.35"/><circle cx="179.3" cy="237.1" r="0.7"/><circle cx="332.2" cy="262.2" r="0.7"/><circle cx="287.8" cy="258.2" r="0.9"/><circle cx="410.2" cy="236.2" r="0.9"/><circle cx="256.8" cy="223.9" r="0.45"/><circle cx="354.9" cy="228.0" r="0.45"/><circle cx="283.2" cy="241.9" r="0.9"/><circle cx="419.1" cy="246.3" r="0.9"/><circle cx="264.7" cy="256.1" r="0.7"/><circle cx="224.4" cy="231.6" r="0.55"/><circle cx="362.5" cy="243.1" r="0.45"/><circle cx="309.6" cy="262.7" r="0.45"/><circle cx="208.5" cy="239.4" r="0.9"/><circle cx="248.8" cy="223.9" r="0.35"/><circle cx="438.0" cy="244.7" r="0.35"/><circle cx="459.9" cy="267.9" r="0.55"/><circle cx="407.1" cy="225.1" r="0.45"/><circle cx="370.7" cy="238.6" r="0.35"/><circle cx="512.0" cy="262.8" r="0.45"/><circle cx="450.9" cy="234.2" r="0.7"/><circle cx="214.7" cy="245.2" r="0.7"/><circle cx="308.5" cy="237.4" r="0.7"/><circle cx="422.4" cy="232.4" r="0.7"/><circle cx="243.9" cy="258.1" r="0.55"/><circle cx="408.8" cy="233.3" r="0.35"/><circle cx="436.4" cy="264.7" r="0.45"/><circle cx="342.3" cy="234.1" r="0.9"/><circle cx="281.8" cy="265.0" r="0.7"/><circle cx="214.8" cy="264.8" r="0.7"/><circle cx="268.8" cy="239.7" r="0.9"/><circle cx="278.8" cy="255.8" r="0.55"/><circle cx="197.7" cy="223.7" r="0.55"/><circle cx="489.5" cy="248.6" r="0.55"/><circle cx="462.2" cy="263.7" r="0.7"/><circle cx="308.9" cy="238.0" r="0.55"/><circle cx="183.0" cy="255.2" r="0.45"/><circle cx="446.6" cy="251.5" r="0.9"/><circle cx="365.3" cy="250.8" r="0.35"/><circle cx="270.3" cy="261.0" r="0.7"/><circle cx="307.9" cy="264.8" r="0.35"/><circle cx="458.2" cy="254.1" r="0.55"/><circle cx="281.9" cy="238.9" r="0.35"/><circle cx="225.3" cy="231.0" r="0.45"/><circle cx="263.9" cy="232.3" r="0.9"/><circle cx="172.3" cy="247.6" r="0.7"/><circle cx="173.2" cy="247.7" r="0.9"/><circle cx="200.1" cy="260.7" r="0.55"/><circle cx="266.0" cy="226.9" r="0.35"/><circle cx="283.6" cy="255.6" r="0.7"/><circle cx="416.4" cy="267.3" r="0.45"/><circle cx="228.8" cy="251.2" r="0.7"/><circle cx="458.6" cy="235.8" r="0.7"/><circle cx="273.7" cy="257.2" r="0.9"/><circle cx="349.4" cy="252.4" r="0.55"/><circle cx="287.7" cy="230.4" r="0.9"/><circle cx="434.6" cy="263.2" r="0.35"/><circle cx="463.1" cy="263.6" r="0.55"/><circle cx="212.1" cy="243.2" r="0.7"/><circle cx="186.4" cy="251.2" r="0.7"/><circle cx="481.7" cy="224.5" r="0.55"/><circle cx="313.5" cy="256.8" r="0.7"/></g></svg>
<div class="tx " style="left:183.00px;top:408.00px;color:#4f4290;transform:scaleX(0.7558)">Unit</div>
<div class="tx " style="left:273.60px;top:408.00px;color:#1c9ad0;transform:scaleX(0.7387)">Title</div>
<div class="tx " style="left:747.20px;top:408.00px;color:#cd8b3d;transform:scaleX(0.6863)">Topic</div>
<div class="tx " style="left:1407.30px;top:408.00px;color:#c4664f;transform:scaleX(0.6618)">Page</div>
<div class="bg u" style="top:468.10px"></div>
<div class="bg t" style="top:468.10px"></div>
<div class="bg p" style="top:468.10px"></div>
<div class="bg g" style="top:468.10px"></div>
<div class="tx c " style="font-size:36.3px;line-height:41px;height:41px;left:196.30px;top:475.00px;width:20.19px;transform:scaleX(0.7200)">1</div>
<div class="tx " style="left:273.90px;top:475.00px;transform:scaleX(0.6833)">Transport Toys</div>
<div class="tx it" style="left:746.30px;top:475.00px;transform:scaleX(0.7153)">Data representation and interpretation</div>
<div class="tx c it" style="font-size:36.3px;line-height:41px;height:41px;left:1426.30px;top:475.00px;width:20.19px;transform:scaleX(0.7150)">2</div>
<div class="tx c " style="font-size:36.3px;line-height:41px;height:41px;left:196.30px;top:526.00px;width:20.19px;transform:scaleX(0.7200)">2</div>
<div class="tx " style="left:272.90px;top:526.00px;transform:scaleX(0.6938)">Missing Shapes</div>
<div class="tx it" style="left:746.30px;top:526.00px;transform:scaleX(0.7013)">Patterns and algebra</div>
<div class="tx c it" style="font-size:36.3px;line-height:41px;height:41px;left:1426.30px;top:526.00px;width:20.19px;transform:scaleX(0.7150)">3</div>
<div class="bg u" style="top:570.90px"></div>
<div class="bg t" style="top:570.90px"></div>
<div class="bg p" style="top:570.90px"></div>
<div class="bg g" style="top:570.90px"></div>
<div class="tx c " style="font-size:36.3px;line-height:41px;height:41px;left:196.30px;top:577.00px;width:20.19px;transform:scaleX(0.7200)">3</div>
<div class="tx " style="left:272.90px;top:577.00px;transform:scaleX(0.7103)">Long and Short</div>
<div class="tx it" style="left:746.30px;top:577.00px;transform:scaleX(0.6978)">Using units of measurement</div>
<div class="tx c it" style="font-size:36.3px;line-height:41px;height:41px;left:1426.30px;top:577.00px;width:20.19px;transform:scaleX(0.7150)">4</div>
<div class="tx c " style="font-size:36.3px;line-height:41px;height:41px;left:196.30px;top:629.00px;width:20.19px;transform:scaleX(0.7200)">4</div>
<div class="tx " style="left:272.90px;top:629.00px;transform:scaleX(0.7134)">Counting Up, Counting Down</div>
<div class="tx it" style="left:746.30px;top:629.00px;transform:scaleX(0.6949)">Number and place value</div>
<div class="tx c it" style="font-size:36.3px;line-height:41px;height:41px;left:1426.30px;top:629.00px;width:20.19px;transform:scaleX(0.7150)">5</div>
<div class="bg u" style="top:673.70px"></div>
<div class="bg t" style="top:673.70px"></div>
<div class="bg p" style="top:673.70px"></div>
<div class="bg g" style="top:673.70px"></div>
<div class="tx c " style="font-size:36.3px;line-height:41px;height:41px;left:196.30px;top:680.00px;width:20.19px;transform:scaleX(0.7200)">5</div>
<div class="tx " style="left:272.90px;top:680.00px;transform:scaleX(0.6901)">Colour the Coins</div>
<div class="tx it" style="left:746.30px;top:680.00px;transform:scaleX(0.7122)">Money and financial mathematics</div>
<div class="tx c it" style="font-size:36.3px;line-height:41px;height:41px;left:1426.30px;top:680.00px;width:20.19px;transform:scaleX(0.7150)">6</div>
<div class="tx c " style="font-size:36.3px;line-height:41px;height:41px;left:196.30px;top:731.00px;width:20.19px;transform:scaleX(0.7200)">6</div>
<div class="tx " style="left:272.90px;top:731.00px;transform:scaleX(0.7175)">Clockwise and Anticlockwise</div>
<div class="tx it" style="left:746.30px;top:731.00px;transform:scaleX(0.7150)">Location and transformation</div>
<div class="tx c it" style="font-size:36.3px;line-height:41px;height:41px;left:1426.30px;top:731.00px;width:20.19px;transform:scaleX(0.7150)">7</div>
<div class="bg u" style="top:776.50px"></div>
<div class="bg t" style="top:776.50px"></div>
<div class="bg p" style="top:776.50px"></div>
<div class="bg g" style="top:776.50px"></div>
<div class="tx c " style="font-size:36.3px;line-height:41px;height:41px;left:196.30px;top:783.00px;width:20.19px;transform:scaleX(0.7200)">7</div>
<div class="tx " style="left:272.90px;top:783.00px;transform:scaleX(0.7024)">Counting On</div>
<div class="tx it" style="left:746.30px;top:783.00px;transform:scaleX(0.6949)">Number and place value</div>
<div class="tx c it" style="font-size:36.3px;line-height:41px;height:41px;left:1426.30px;top:783.00px;width:20.19px;transform:scaleX(0.7150)">8</div>
<div class="tx c " style="font-size:36.3px;line-height:41px;height:41px;left:196.30px;top:834.00px;width:20.19px;transform:scaleX(0.7200)">8</div>
<div class="tx " style="left:272.90px;top:834.00px;transform:scaleX(0.6746)">Halves</div>
<div class="tx it" style="left:746.30px;top:834.00px;transform:scaleX(0.6881)">Fractions and decimals</div>
<div class="tx c it" style="font-size:36.3px;line-height:41px;height:41px;left:1426.30px;top:834.00px;width:20.19px;transform:scaleX(0.7150)">9</div>
<div class="bg u" style="top:879.30px"></div>
<div class="bg t" style="top:879.30px"></div>
<div class="bg p" style="top:879.30px"></div>
<div class="bg g" style="top:879.30px"></div>
<div class="tx c " style="font-size:36.3px;line-height:41px;height:41px;left:196.30px;top:886.00px;width:20.19px;transform:scaleX(0.7200)">9</div>
<div class="tx " style="left:272.90px;top:886.00px;transform:scaleX(0.6932)">Coloured Balls</div>
<div class="tx it" style="left:746.30px;top:886.00px;transform:scaleX(0.7153)">Data representation and interpretation</div>
<div class="tx c it" style="font-size:36.3px;line-height:41px;height:41px;left:1417.21px;top:886.00px;width:40.38px;transform:scaleX(0.7150)">10</div>
<div class="tx c " style="font-size:36.3px;line-height:41px;height:41px;left:186.21px;top:937.00px;width:40.38px;transform:scaleX(0.7200)">10</div>
<div class="tx " style="left:272.90px;top:937.00px;transform:scaleX(0.7124)">Missing Numbers</div>
<div class="tx it" style="left:746.30px;top:937.00px;transform:scaleX(0.7013)">Patterns and algebra</div>
<div class="tx c it" style="font-size:36.3px;line-height:41px;height:41px;left:1418.56px;top:937.00px;width:37.68px;transform:scaleX(0.7150)">11</div>
<div class="bg u" style="top:982.10px"></div>
<div class="bg t" style="top:982.10px"></div>
<div class="bg p" style="top:982.10px"></div>
<div class="bg g" style="top:982.10px"></div>
<div class="tx c " style="font-size:36.3px;line-height:41px;height:41px;left:187.56px;top:988.00px;width:37.68px;transform:scaleX(0.7200)">11</div>
<div class="tx " style="left:272.90px;top:988.00px;transform:scaleX(0.7083)">Upside Down</div>
<div class="tx it" style="left:746.30px;top:988.00px;transform:scaleX(0.7083)">Position</div>
<div class="tx c it" style="font-size:36.3px;line-height:41px;height:41px;left:1417.21px;top:988.00px;width:40.38px;transform:scaleX(0.7150)">12</div>
<div class="tx c " style="font-size:36.3px;line-height:41px;height:41px;left:186.21px;top:1040.00px;width:40.38px;transform:scaleX(0.7200)">12</div>
<div class="tx " style="left:272.90px;top:1040.00px;transform:scaleX(0.7149)">Fruity Problems</div>
<div class="tx it" style="left:746.30px;top:1040.00px;transform:scaleX(0.6949)">Number and place value</div>
<div class="tx c it" style="font-size:36.3px;line-height:41px;height:41px;left:1417.21px;top:1040.00px;width:40.38px;transform:scaleX(0.7150)">13</div>
<div class="bg u" style="top:1084.90px"></div>
<div class="bg t" style="top:1084.90px"></div>
<div class="bg p" style="top:1084.90px"></div>
<div class="bg g" style="top:1084.90px"></div>
<div class="tx c " style="font-size:36.3px;line-height:41px;height:41px;left:186.21px;top:1091.00px;width:40.38px;transform:scaleX(0.7200)">13</div>
<div class="tx " style="left:273.90px;top:1091.00px;transform:scaleX(0.6900)">Tricky Patterns</div>
<div class="tx it" style="left:746.30px;top:1091.00px;transform:scaleX(0.7013)">Patterns and algebra</div>
<div class="tx c it" style="font-size:36.3px;line-height:41px;height:41px;left:1417.21px;top:1091.00px;width:40.38px;transform:scaleX(0.7150)">14</div>
<div class="tx c " style="font-size:36.3px;line-height:41px;height:41px;left:186.21px;top:1142.00px;width:40.38px;transform:scaleX(0.7200)">14</div>
<div class="tx " style="left:273.90px;top:1142.00px;transform:scaleX(0.7083)">What Holds the Most?</div>
<div class="tx it" style="left:746.30px;top:1142.00px;transform:scaleX(0.6978)">Using units of measurement</div>
<div class="tx c it" style="font-size:36.3px;line-height:41px;height:41px;left:1417.21px;top:1142.00px;width:40.38px;transform:scaleX(0.7150)">15</div>
<div class="bg u" style="top:1187.70px"></div>
<div class="bg t" style="top:1187.70px"></div>
<div class="bg p" style="top:1187.70px"></div>
<div class="bg g" style="top:1187.70px"></div>
<div class="tx c " style="font-size:36.3px;line-height:41px;height:41px;left:186.21px;top:1194.00px;width:40.38px;transform:scaleX(0.7200)">15</div>
<div class="tx " style="left:272.90px;top:1194.00px;transform:scaleX(0.7077)">Grid Position</div>
<div class="tx it" style="left:746.30px;top:1194.00px;transform:scaleX(0.7083)">Position</div>
<div class="tx c it" style="font-size:36.3px;line-height:41px;height:41px;left:1417.21px;top:1194.00px;width:40.38px;transform:scaleX(0.7150)">16</div>
<div class="tx c " style="font-size:36.3px;line-height:41px;height:41px;left:186.21px;top:1245.00px;width:40.38px;transform:scaleX(0.7200)">16</div>
<div class="tx " style="left:272.90px;top:1245.00px;transform:scaleX(0.6930)">More Halves</div>
<div class="tx it" style="left:746.30px;top:1245.00px;transform:scaleX(0.6881)">Fractions and decimals</div>
<div class="tx c it" style="font-size:36.3px;line-height:41px;height:41px;left:1417.21px;top:1245.00px;width:40.38px;transform:scaleX(0.7150)">17</div>
<div class="bg u" style="top:1290.50px"></div>
<div class="bg t" style="top:1290.50px"></div>
<div class="bg p" style="top:1290.50px"></div>
<div class="bg g" style="top:1290.50px"></div>
<div class="tx c " style="font-size:36.3px;line-height:41px;height:41px;left:186.21px;top:1297.00px;width:40.38px;transform:scaleX(0.7200)">17</div>
<div class="tx " style="left:272.90px;top:1297.00px;transform:scaleX(0.7116)">Lengths</div>
<div class="tx it" style="left:746.30px;top:1297.00px;transform:scaleX(0.6978)">Using units of measurement</div>
<div class="tx c it" style="font-size:36.3px;line-height:41px;height:41px;left:1417.21px;top:1297.00px;width:40.38px;transform:scaleX(0.7150)">18</div>
<div class="tx c " style="font-size:36.3px;line-height:41px;height:41px;left:186.21px;top:1348.00px;width:40.38px;transform:scaleX(0.7200)">18</div>
<div class="tx " style="left:272.90px;top:1348.00px;transform:scaleX(0.6829)">Ones, Tens and Hundreds</div>
<div class="tx it" style="left:746.30px;top:1348.00px;transform:scaleX(0.6949)">Number and place value</div>
<div class="tx c it" style="font-size:36.3px;line-height:41px;height:41px;left:1417.21px;top:1348.00px;width:40.38px;transform:scaleX(0.7150)">19</div>
<div class="bg u" style="top:1393.30px"></div>
<div class="bg t" style="top:1393.30px"></div>
<div class="bg p" style="top:1393.30px"></div>
<div class="bg g" style="top:1393.30px"></div>
<div class="tx c " style="font-size:36.3px;line-height:41px;height:41px;left:186.21px;top:1399.00px;width:40.38px;transform:scaleX(0.7200)">19</div>
<div class="tx " style="left:273.90px;top:1399.00px;transform:scaleX(0.7089)">Time for Time</div>
<div class="tx it" style="left:747.30px;top:1399.00px;transform:scaleX(0.6619)">Shape</div>
<div class="tx c it" style="font-size:36.3px;line-height:41px;height:41px;left:1416.21px;top:1399.00px;width:40.38px;transform:scaleX(0.7150)">20</div>
<div class="tx c " style="font-size:36.3px;line-height:41px;height:41px;left:186.21px;top:1451.00px;width:40.38px;transform:scaleX(0.7200)">20</div>
<div class="tx " style="left:273.90px;top:1451.00px;transform:scaleX(0.6867)">Where Is It?</div>
<div class="tx it" style="left:746.30px;top:1451.00px;transform:scaleX(0.6949)">Number and place value</div>
<div class="tx c it" style="font-size:36.3px;line-height:41px;height:41px;left:1416.21px;top:1451.00px;width:40.38px;transform:scaleX(0.7150)">21</div>
<div class="bg u" style="top:1496.10px"></div>
<div class="bg t" style="top:1496.10px"></div>
<div class="bg p" style="top:1496.10px"></div>
<div class="bg g" style="top:1496.10px"></div>
<div class="tx c " style="font-size:36.3px;line-height:41px;height:41px;left:186.21px;top:1502.00px;width:40.38px;transform:scaleX(0.7200)">21</div>
<div class="tx " style="left:272.90px;top:1502.00px;transform:scaleX(0.6745)">Edges and Corners</div>
<div class="tx it" style="left:747.30px;top:1502.00px;transform:scaleX(0.6619)">Shape</div>
<div class="tx c it" style="font-size:36.3px;line-height:41px;height:41px;left:1416.21px;top:1502.00px;width:40.38px;transform:scaleX(0.7150)">22</div>
<div class="tx c " style="font-size:36.3px;line-height:41px;height:41px;left:186.21px;top:1554.00px;width:40.38px;transform:scaleX(0.7200)">22</div>
<div class="tx " style="left:272.90px;top:1554.00px;transform:scaleX(0.6526)">Face It</div>
<div class="tx it" style="left:747.30px;top:1554.00px;transform:scaleX(0.6619)">Shape</div>
<div class="tx c it" style="font-size:36.3px;line-height:41px;height:41px;left:1416.21px;top:1554.00px;width:40.38px;transform:scaleX(0.7150)">23</div>
<div class="bg u" style="top:1598.90px"></div>
<div class="bg t" style="top:1598.90px"></div>
<div class="bg p" style="top:1598.90px"></div>
<div class="bg g" style="top:1598.90px"></div>
<div class="tx c " style="font-size:36.3px;line-height:41px;height:41px;left:186.21px;top:1605.00px;width:40.38px;transform:scaleX(0.7200)">23</div>
<div class="tx " style="left:273.90px;top:1605.00px;transform:scaleX(0.6935)">The Shortest Route</div>
<div class="tx it" style="left:746.30px;top:1605.00px;transform:scaleX(0.7150)">Location and transformation</div>
<div class="tx c it" style="font-size:36.3px;line-height:41px;height:41px;left:1416.21px;top:1605.00px;width:40.38px;transform:scaleX(0.7150)">24</div>
<div class="tx c " style="font-size:36.3px;line-height:41px;height:41px;left:186.21px;top:1656.00px;width:40.38px;transform:scaleX(0.7200)">24</div>
<div class="tx " style="left:273.90px;top:1656.00px;transform:scaleX(0.7073)">What Will Happen?</div>
<div class="tx it" style="left:746.30px;top:1656.00px;transform:scaleX(0.6569)">Chance</div>
<div class="tx c it" style="font-size:36.3px;line-height:41px;height:41px;left:1416.21px;top:1656.00px;width:40.38px;transform:scaleX(0.7150)">25</div>
<div class="bg u" style="top:1701.70px"></div>
<div class="bg t" style="top:1701.70px"></div>
<div class="bg p" style="top:1701.70px"></div>
<div class="bg g" style="top:1701.70px"></div>
<div class="tx c " style="font-size:36.3px;line-height:41px;height:41px;left:186.21px;top:1708.00px;width:40.38px;transform:scaleX(0.7200)">25</div>
<div class="tx " style="left:272.90px;top:1708.00px;transform:scaleX(0.6546)">Coins</div>
<div class="tx it" style="left:746.30px;top:1708.00px;transform:scaleX(0.7122)">Money and financial mathematics</div>
<div class="tx c it" style="font-size:36.3px;line-height:41px;height:41px;left:1416.21px;top:1708.00px;width:40.38px;transform:scaleX(0.7150)">26</div>
<div class="tx c " style="font-size:36.3px;line-height:41px;height:41px;left:186.21px;top:1759.00px;width:40.38px;transform:scaleX(0.7200)">26</div>
<div class="tx " style="left:272.90px;top:1759.00px;transform:scaleX(0.7138)">Number Patterns</div>
<div class="tx it" style="left:746.30px;top:1759.00px;transform:scaleX(0.7013)">Patterns and algebra</div>
<div class="tx c it" style="font-size:36.3px;line-height:41px;height:41px;left:1416.21px;top:1759.00px;width:40.38px;transform:scaleX(0.7150)">27</div>
<div class="bg u" style="top:1804.50px"></div>
<div class="bg t" style="top:1804.50px"></div>
<div class="bg p" style="top:1804.50px"></div>
<div class="bg g" style="top:1804.50px"></div>
<div class="tx c " style="font-size:36.3px;line-height:41px;height:41px;left:186.21px;top:1810.00px;width:40.38px;transform:scaleX(0.7200)">27</div>
<div class="tx " style="left:272.90px;top:1810.00px;transform:scaleX(0.6877)">Favourite Games</div>
<div class="tx it" style="left:746.30px;top:1810.00px;transform:scaleX(0.7153)">Data representation and interpretation</div>
<div class="tx c it" style="font-size:36.3px;line-height:41px;height:41px;left:1416.21px;top:1810.00px;width:40.38px;transform:scaleX(0.7150)">28</div>
<div class="tx c " style="font-size:36.3px;line-height:41px;height:41px;left:186.21px;top:1862.00px;width:40.38px;transform:scaleX(0.7200)">28</div>
<div class="tx " style="left:272.90px;top:1862.00px;transform:scaleX(0.7224)">Digits</div>
<div class="tx it" style="left:746.30px;top:1862.00px;transform:scaleX(0.6949)">Number and place value</div>
<div class="tx c it" style="font-size:36.3px;line-height:41px;height:41px;left:1416.21px;top:1862.00px;width:40.38px;transform:scaleX(0.7150)">29</div>
<div class="bg u" style="top:1907.30px"></div>
<div class="bg t" style="top:1907.30px"></div>
<div class="bg p" style="top:1907.30px"></div>
<div class="bg g" style="top:1907.30px"></div>
<div class="tx c " style="font-size:36.3px;line-height:41px;height:41px;left:186.21px;top:1913.00px;width:40.38px;transform:scaleX(0.7200)">29</div>
<div class="tx " style="left:272.90px;top:1913.00px;transform:scaleX(0.6816)">Let’s Make Halves</div>
<div class="tx it" style="left:746.30px;top:1913.00px;transform:scaleX(0.6881)">Fractions and decimals</div>
<div class="tx c it" style="font-size:36.3px;line-height:41px;height:41px;left:1416.21px;top:1913.00px;width:40.38px;transform:scaleX(0.7150)">30</div>
<div class="tx c " style="font-size:36.3px;line-height:41px;height:41px;left:186.21px;top:1965.00px;width:40.38px;transform:scaleX(0.7200)">30</div>
<div class="tx " style="left:272.90px;top:1965.00px;transform:scaleX(0.6938)">Quarter Turns</div>
<div class="tx it" style="left:746.30px;top:1965.00px;transform:scaleX(0.7150)">Location and transformation</div>
<div class="tx c it" style="font-size:36.3px;line-height:41px;height:41px;left:1416.21px;top:1965.00px;width:40.38px;transform:scaleX(0.7150)">31</div>
<div class="abs ft" style="left:1095.3px;top:2113px;font-family:'Liberation Serif',serif;font-size:30px;line-height:36px;color:#b9afc9;">&copy;</div>
<div class="abs ft" style="left:1129.3px;top:2118.5px;font-size:22.2px;line-height:26px;white-space:nowrap;color:#b9afc9;">Teachers 4 Teachers Publications Pty Ltd</div>
</body></html>
